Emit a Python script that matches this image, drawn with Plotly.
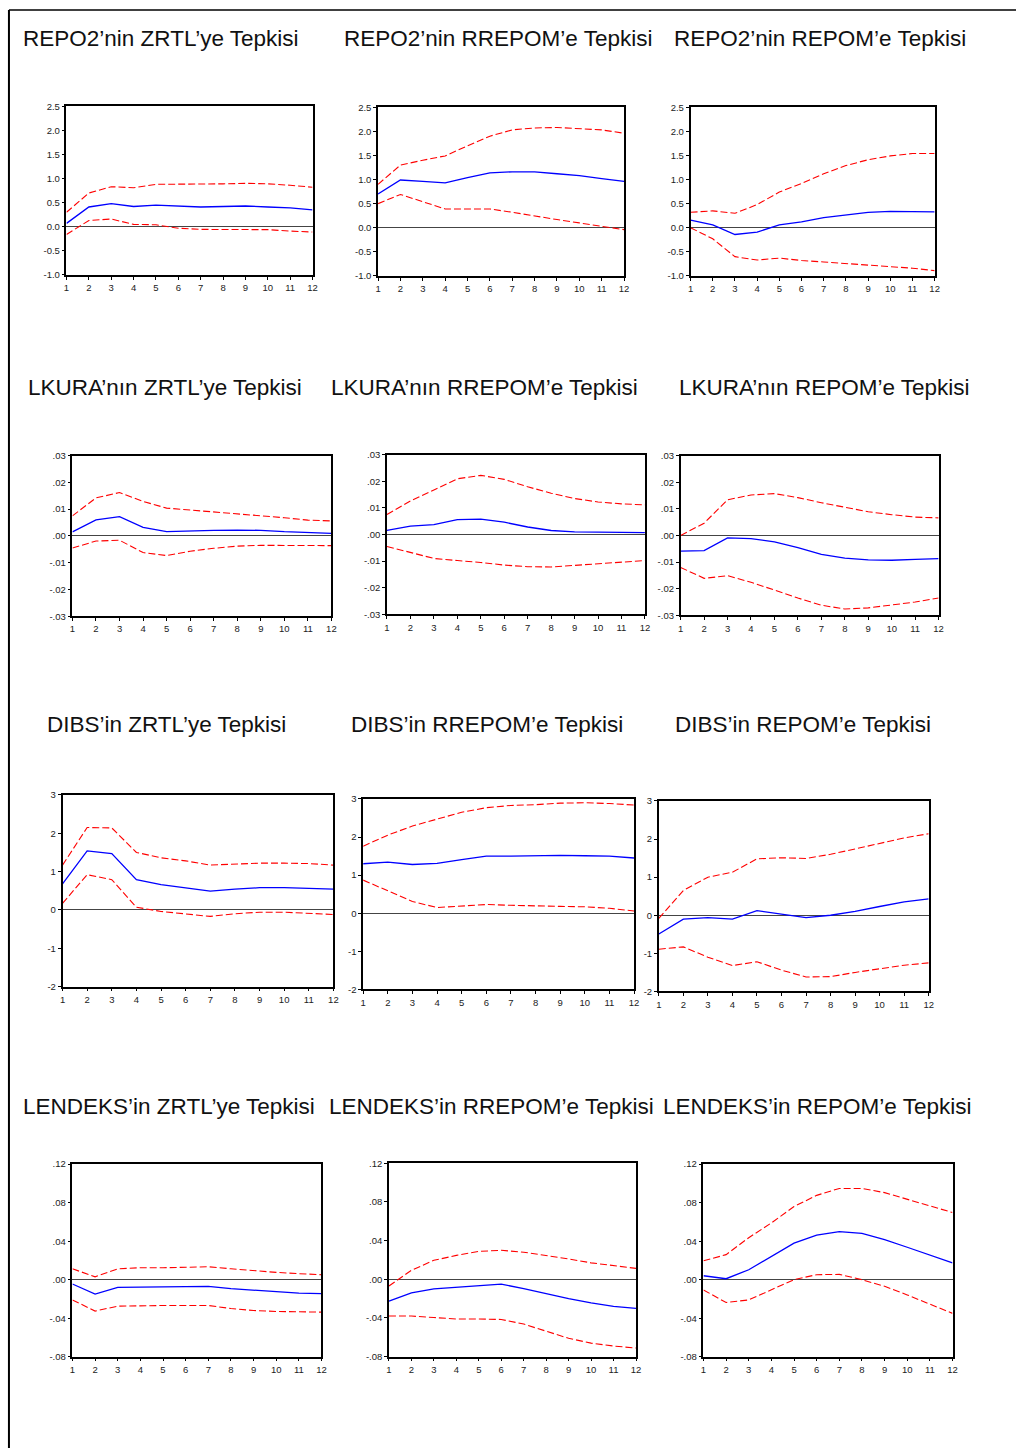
import plotly.graph_objects as go

W, H = 1021, 1453
periods = list(range(1, 13))

titles = [
    "REPO2’nin ZRTL’ye Tepkisi", "REPO2’nin RREPOM’e Tepkisi", "REPO2’nin REPOM’e Tepkisi",
    "LKURA’nın ZRTL’ye Tepkisi", "LKURA’nın RREPOM’e Tepkisi", "LKURA’nın REPOM’e Tepkisi",
    "DIBS’in ZRTL’ye Tepkisi", "DIBS’in RREPOM’e Tepkisi", "DIBS’in REPOM’e Tepkisi",
    "LENDEKS’in ZRTL’ye Tepkisi", "LENDEKS’in RREPOM’e Tepkisi", "LENDEKS’in REPOM’e Tepkisi",
]

# Row 1: REPO2
repo2_zrtl = [0.07, 0.41, 0.48, 0.42, 0.45, 0.43, 0.41, 0.42, 0.43, 0.41, 0.39, 0.35]
repo2_zrtl_up = [0.30, 0.70, 0.83, 0.81, 0.88, 0.88, 0.88, 0.89, 0.90, 0.89, 0.86, 0.82]
repo2_zrtl_lo = [-0.16, 0.13, 0.16, 0.05, 0.04, -0.03, -0.055, -0.055, -0.05, -0.06, -0.09, -0.11]

repo2_rrepom = [0.70, 0.99, 0.96, 0.93, 1.04, 1.14, 1.16, 1.16, 1.12, 1.08, 1.02, 0.96]
repo2_rrepom_up = [0.90, 1.30, 1.40, 1.49, 1.70, 1.90, 2.03, 2.07, 2.08, 2.06, 2.03, 1.96]
repo2_rrepom_lo = [0.50, 0.69, 0.54, 0.39, 0.39, 0.39, 0.32, 0.24, 0.17, 0.10, 0.03, -0.04]

repo2_repom = [0.16, 0.06, -0.14, -0.09, 0.06, 0.12, 0.21, 0.27, 0.32, 0.34, 0.34, 0.33]
repo2_repom_up = [0.32, 0.35, 0.30, 0.48, 0.74, 0.92, 1.12, 1.29, 1.41, 1.49, 1.54, 1.54]
repo2_repom_lo = [0.0, -0.23, -0.60, -0.67, -0.63, -0.68, -0.71, -0.74, -0.77, -0.81, -0.84, -0.89]

# Row 2: LKURA
lkura_zrtl = [0.0015, 0.0060, 0.0072, 0.0032, 0.0016, 0.0019, 0.0021, 0.0022, 0.0021, 0.0016, 0.0012, 0.0010]
lkura_zrtl_up = [0.0075, 0.0142, 0.0162, 0.0129, 0.0104, 0.0097, 0.0089, 0.0083, 0.0077, 0.0068, 0.0059, 0.0056]
lkura_zrtl_lo = [-0.0045, -0.0019, -0.0016, -0.0062, -0.0073, -0.0057, -0.0046, -0.0038, -0.0035, -0.0035, -0.0036, -0.0036]

lkura_rrepom = [0.0015, 0.0031, 0.0037, 0.0056, 0.0058, 0.0046, 0.0028, 0.0015, 0.0010, 0.0009, 0.0007, 0.0007]
lkura_rrepom_up = [0.0075, 0.0126, 0.0167, 0.0209, 0.0222, 0.0207, 0.0179, 0.0155, 0.0135, 0.0122, 0.0115, 0.0111]
lkura_rrepom_lo = [-0.0045, -0.0068, -0.0090, -0.0098, -0.0105, -0.0115, -0.0121, -0.0122, -0.0116, -0.0110, -0.0103, -0.0098]

lkura_repom = [-0.0059, -0.0057, -0.0009, -0.0012, -0.0024, -0.0046, -0.0071, -0.0085, -0.0092, -0.0093, -0.0090, -0.0087]
lkura_repom_up = [0.0, 0.0046, 0.0134, 0.0152, 0.0157, 0.0142, 0.0123, 0.0105, 0.0089, 0.0078, 0.0069, 0.0066]
lkura_repom_lo = [-0.0120, -0.0161, -0.0151, -0.0176, -0.0205, -0.0235, -0.0262, -0.0276, -0.0272, -0.0262, -0.0250, -0.0235]

# Row 3: DIBS
dibs_zrtl = [0.68, 1.54, 1.47, 0.79, 0.66, 0.57, 0.49, 0.54, 0.58, 0.58, 0.56, 0.54]
dibs_zrtl_up = [1.17, 2.15, 2.14, 1.50, 1.36, 1.28, 1.17, 1.19, 1.22, 1.22, 1.21, 1.17]
dibs_zrtl_lo = [0.17, 0.92, 0.79, 0.07, -0.04, -0.11, -0.17, -0.10, -0.06, -0.06, -0.09, -0.12]

dibs_rrepom = [1.30, 1.34, 1.28, 1.31, 1.41, 1.50, 1.50, 1.51, 1.52, 1.51, 1.50, 1.45]
dibs_rrepom_up = [1.76, 2.05, 2.29, 2.48, 2.65, 2.77, 2.83, 2.85, 2.89, 2.90, 2.88, 2.84]
dibs_rrepom_lo = [0.87, 0.60, 0.31, 0.15, 0.19, 0.23, 0.21, 0.19, 0.18, 0.17, 0.13, 0.06]

dibs_repom = [-0.49, -0.10, -0.06, -0.10, 0.12, 0.03, -0.06, 0.0, 0.10, 0.23, 0.35, 0.43]
dibs_repom_up = [-0.08, 0.65, 1.00, 1.13, 1.48, 1.51, 1.49, 1.60, 1.74, 1.89, 2.03, 2.14]
dibs_repom_lo = [-0.89, -0.83, -1.10, -1.32, -1.22, -1.44, -1.62, -1.61, -1.50, -1.40, -1.31, -1.25]

# Row 4: LENDEKS
lendeks_zrtl = [-0.0045, -0.0150, -0.0080, -0.0076, -0.0076, -0.0070, -0.0070, -0.0093, -0.0110, -0.0130, -0.0140, -0.0144]
lendeks_zrtl_up = [0.0113, 0.0030, 0.0113, 0.0124, 0.0124, 0.0130, 0.0134, 0.0113, 0.0093, 0.0076, 0.0062, 0.0052]
lendeks_zrtl_lo = [-0.0210, -0.0326, -0.0275, -0.0270, -0.0268, -0.0268, -0.0268, -0.0300, -0.0320, -0.0330, -0.0333, -0.0337]

lendeks_rrepom = [-0.0226, -0.0140, -0.0100, -0.0082, -0.0062, -0.0051, -0.0096, -0.0150, -0.0200, -0.0244, -0.0280, -0.0300]
lendeks_rrepom_up = [-0.0069, 0.0093, 0.0196, 0.0247, 0.0288, 0.0300, 0.0280, 0.0247, 0.0210, 0.0170, 0.0140, 0.0113]
lendeks_rrepom_lo = [-0.0380, -0.0380, -0.0395, -0.0410, -0.0410, -0.0415, -0.0463, -0.0535, -0.0610, -0.0660, -0.0690, -0.0710]

lendeks_repom = [0.0041, 0.0010, 0.0103, 0.0240, 0.0380, 0.0464, 0.0500, 0.0480, 0.0416, 0.0337, 0.0254, 0.0175]
lendeks_repom_up = [0.0196, 0.0260, 0.0436, 0.0590, 0.0760, 0.0876, 0.0948, 0.0948, 0.0904, 0.0838, 0.0770, 0.0698]
lendeks_repom_lo = [-0.0107, -0.0237, -0.0210, -0.0107, 0.0, 0.0052, 0.0055, 0.0, -0.0069, -0.0158, -0.0258, -0.0350]

responses = [
    (repo2_zrtl, repo2_zrtl_up, repo2_zrtl_lo),
    (repo2_rrepom, repo2_rrepom_up, repo2_rrepom_lo),
    (repo2_repom, repo2_repom_up, repo2_repom_lo),
    (lkura_zrtl, lkura_zrtl_up, lkura_zrtl_lo),
    (lkura_rrepom, lkura_rrepom_up, lkura_rrepom_lo),
    (lkura_repom, lkura_repom_up, lkura_repom_lo),
    (dibs_zrtl, dibs_zrtl_up, dibs_zrtl_lo),
    (dibs_rrepom, dibs_rrepom_up, dibs_rrepom_lo),
    (dibs_repom, dibs_repom_up, dibs_repom_lo),
    (lendeks_zrtl, lendeks_zrtl_up, lendeks_zrtl_lo),
    (lendeks_rrepom, lendeks_rrepom_up, lendeks_rrepom_lo),
    (lendeks_repom, lendeks_repom_up, lendeks_repom_lo),
]

# y-axis ticks per row
row_tickvals = [
    [-1.0, -0.5, 0.0, 0.5, 1.0, 1.5, 2.0, 2.5],
    [-0.03, -0.02, -0.01, 0.0, 0.01, 0.02, 0.03],
    [-2, -1, 0, 1, 2, 3],
    [-0.08, -0.04, 0.0, 0.04, 0.08, 0.12],
]
row_ticktext = [
    ["-1.0", "-0.5", "0.0", "0.5", "1.0", "1.5", "2.0", "2.5"],
    ["-.03", "-.02", "-.01", ".00", ".01", ".02", ".03"],
    ["-2", "-1", "0", "1", "2", "3"],
    ["-.08", "-.04", ".00", ".04", ".08", ".12"],
]

# plot boxes in pixels: (x0, x1, y0_top, y1_bottom)
boxes = [
    (64, 312, 101, 271), (378, 626, 102, 272), (693, 939, 102, 272),
    (70, 331, 453, 615), (387, 647, 452, 613), (683, 943, 453, 614),
    (60, 333, 795, 988), (363, 636, 799, 991), (661, 933, 801, 993),
    (70, 321, 1167, 1361), (389, 638, 1166, 1361), (706, 957, 1167, 1361),
]
# title positions (left x, center y) in pixels
title_pos = [
    (18, 33), (342, 33), (674, 33),
    (23, 384), (329, 384), (679, 384),
    (42, 724), (349, 724), (675, 724),
    (18, 1109), (327, 1109), (663, 1109),
]

FONT = "Liberation Sans, Arial, sans-serif"
DASH = "7px,3px"
fig = go.Figure()
layout = {}
annotations = []

for i, ((mid, up, lo), (x0, x1, yt, yb)) in enumerate(zip(responses, boxes)):
    n = i + 1
    xa = "x" if n == 1 else f"x{n}"
    ya = "y" if n == 1 else f"y{n}"
    row = i // 3
    fig.add_trace(go.Scatter(x=periods, y=up, mode="lines", xaxis=xa, yaxis=ya,
                             line=dict(color="#ff0000", width=1.1, dash=DASH), showlegend=False))
    fig.add_trace(go.Scatter(x=periods, y=lo, mode="lines", xaxis=xa, yaxis=ya,
                             line=dict(color="#ff0000", width=1.1, dash=DASH), showlegend=False))
    fig.add_trace(go.Scatter(x=periods, y=mid, mode="lines", xaxis=xa, yaxis=ya,
                             line=dict(color="#0000ff", width=1.3), showlegend=False))
    tv = row_tickvals[row]
    axis_common = dict(showline=True, mirror=True, linecolor="black", linewidth=1.5,
                       showgrid=False, ticks="outside", ticklen=3, tickwidth=1,
                       tickcolor="black", tickfont=dict(family=FONT, size=9.5, color="#222"))
    layout["xaxis" if n == 1 else f"xaxis{n}"] = dict(
        domain=[x0 / W, x1 / W], anchor=ya, range=[1, 12],
        tickmode="array", tickvals=periods, ticktext=[str(p) for p in periods],
        zeroline=False, **axis_common)
    layout["yaxis" if n == 1 else f"yaxis{n}"] = dict(
        domain=[1 - yb / H, 1 - yt / H], anchor=xa, range=[tv[0], tv[-1]],
        tickmode="array", tickvals=tv, ticktext=row_ticktext[row],
        zeroline=True, zerolinecolor="#444", zerolinewidth=1, **axis_common)
    tx, ty = title_pos[i]
    annotations.append(dict(text=titles[i], x=tx / W, y=1 - ty / H, xref="paper", yref="paper",
                            xanchor="left", yanchor="middle", showarrow=False,
                            font=dict(family=FONT, size=22.5, color="#111")))

shapes = [
    dict(type="line", xref="paper", yref="paper", x0=6 / W, x1=6 / W, y0=0, y1=1 - 4 / H,
         line=dict(color="black", width=2)),
    dict(type="line", xref="paper", yref="paper", x0=6 / W, x1=1, y0=1 - 4 / H, y1=1 - 4 / H,
         line=dict(color="black", width=1.5)),
]

fig.update_layout(width=W, height=H, margin=dict(l=0, r=0, t=0, b=0),
                  paper_bgcolor="white", plot_bgcolor="white",
                  annotations=annotations, shapes=shapes, **layout)
fig.write_html(
    "out.html",
    config={"displayModeBar": False},
    post_script=(
        "document.documentElement.style.margin='0';"
        "document.documentElement.style.padding='0';"
        "document.documentElement.style.overflow='hidden';"
        "document.body.style.margin='0';"
        "document.body.style.padding='0';"
        "document.body.style.overflow='hidden';"
    ),
)
